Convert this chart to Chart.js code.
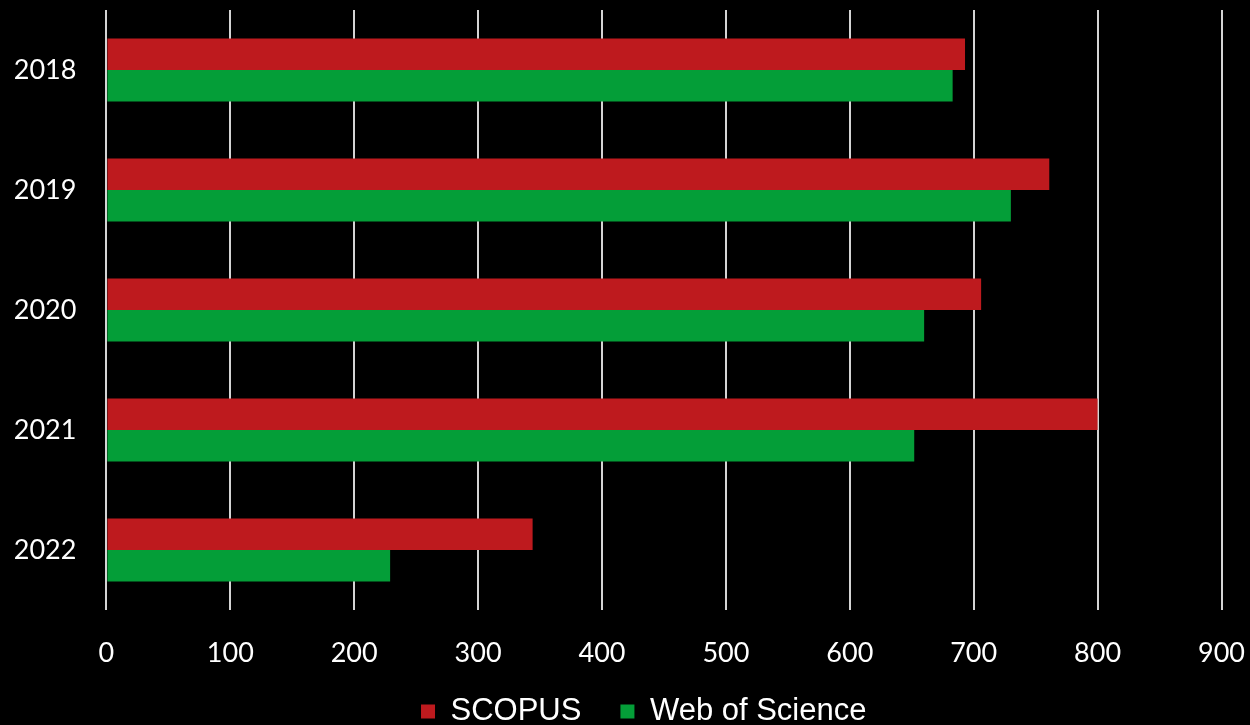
<!DOCTYPE html>
<html>
<head>
<meta charset="utf-8">
<script src="https://cdn.jsdelivr.net/npm/chart.js@4"></script>
<style>
  html, body { margin: 0; padding: 0; background: #000; }
  #wrap { width: 1250px; height: 725px; }
</style>
</head>
<body>
<div id="wrap"><canvas id="chart" width="1250" height="725"></canvas></div>
<script>
// ============================================================
// Data
// ============================================================
const years = ["2018", "2019", "2020", "2021", "2022"];
const scopus = [693, 761, 706, 800, 344];
const webOfScience = [683, 730, 660, 652, 229];
const xTicks = [0, 100, 200, 300, 400, 500, 600, 700, 800, 900];

const RED = "#BE1A1E";
const GREEN = "#049E38";

// legend row is placed by hand: fixed height for the layout,
// then nudged so it sits centred under the plot like the original
const legendPlace = {
  id: "legendPlace",
  beforeLayout(chart) {
    const lg = chart.legend;
    if (!lg || lg._patched) return;
    const orig = lg.fit;
    lg.fit = function () {
      orig.call(this);
      this.height = 55;
    };
    lg._patched = true;
  },
  afterLayout(chart) {
    const lg = chart.legend;
    if (!lg) return;
    lg.top = 657;
    lg.bottom = 725;
    lg.left = 66;
  },
};

new Chart(document.getElementById("chart"), {
  type: "bar",
  data: {
    labels: years,
    datasets: [
      { label: "SCOPUS", data: scopus, backgroundColor: RED, borderWidth: 0 },
      { label: "Web of Science", data: webOfScience, backgroundColor: GREEN, borderWidth: 0 },
    ],
  },
  options: {
    indexAxis: "y",
    responsive: false,
    animation: false,
    devicePixelRatio: 1,
    categoryPercentage: 0.523,
    barPercentage: 1,
    layout: { padding: { left: 0, right: 28.5, top: 10, bottom: 0 } },
    plugins: {
      tooltip: { enabled: false },
      legend: {
        position: "bottom",
        labels: {
          color: "#fff",
          font: { family: "'Liberation Sans', Arial, sans-serif", size: 31 },
          boxWidth: 14,
          boxHeight: 14,
          padding: 39,
        },
      },
    },
    scales: {
      x: {
        min: 0,
        max: 900,
        afterBuildTicks: (scale) => { scale.ticks = xTicks.map((v) => ({ value: v })); },
        afterFit: (scale) => {
          scale.height = 60;
          scale.paddingLeft = 0;
          scale.paddingRight = 0;
        },
        grid: { color: "#d4d4d4", lineWidth: 2, drawTicks: false },
        border: { display: false },
        ticks: {
          color: "#fff",
          padding: 27,
          font: { family: "Lato, 'Open Sans', sans-serif", size: 27 },
        },
      },
      y: {
        afterFit: (scale) => {
          scale.width = 106.4;
          scale.paddingTop = 0;
          scale.paddingBottom = 0;
        },
        grid: { display: false, drawTicks: false },
        border: { display: false },
        ticks: {
          color: "#fff",
          padding: 30,
          font: { family: "Lato, 'Open Sans', sans-serif", size: 27 },
        },
      },
    },
  },
  plugins: [legendPlace],
});
</script>
</body>
</html>
